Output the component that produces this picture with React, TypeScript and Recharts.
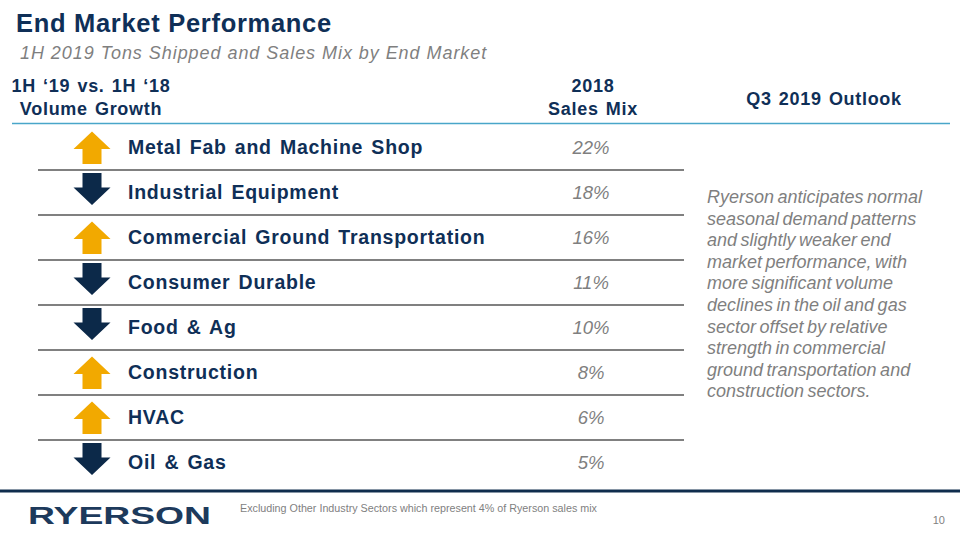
import { Bar, ComposedChart, XAxis, YAxis } from "recharts";

const categories = [
  "Metal Fab and Machine Shop",
  "Industrial Equipment",
  "Commercial Ground Transportation",
  "Consumer Durable",
  "Food & Ag",
  "Construction",
  "HVAC",
  "Oil & Gas",
];
const salesMix = [22, 18, 16, 11, 10, 8, 6, 5];
const volumeGrowth = ["up", "down", "up", "down", "down", "up", "up", "down"];

const outlookLines = [
  "Ryerson anticipates normal",
  "seasonal demand patterns",
  "and slightly weaker end",
  "market performance, with",
  "more significant volume",
  "declines in the oil and gas",
  "sector offset by relative",
  "strength in commercial",
  "ground transportation and",
  "construction sectors.",
];

const rows = categories.map((name, i) => ({
  name,
  mix: salesMix[i],
  dir: volumeGrowth[i],
}));

const navy = "#0f2f57";
const gold = "#f2a900";
const arrowNavy = "#0c2949";
const gray = "#7f7f7f";
const font = "'Liberation Sans', Arial, sans-serif";

function Arrow({ cx, cy, up }: { cx: number; cy: number; up: boolean }) {
  const pts = up
    ? [
        [cx, cy - 16],
        [cx + 18.5, cy + 1.5],
        [cx + 9.5, cy + 1.5],
        [cx + 9.5, cy + 16.5],
        [cx - 9.5, cy + 16.5],
        [cx - 9.5, cy + 1.5],
        [cx - 18.5, cy + 1.5],
      ]
    : [
        [cx - 9.5, cy - 19.5],
        [cx + 9.5, cy - 19.5],
        [cx + 9.5, cy - 5],
        [cx + 18.5, cy - 5],
        [cx, cy + 12.5],
        [cx - 18.5, cy - 5],
        [cx - 9.5, cy - 5],
      ];
  return <polygon points={pts.map((p) => p.join(",")).join(" ")} fill={up ? gold : arrowNavy} />;
}

function RowTick(props: any) {
  const { y, payload, index } = props;
  const row = rows[index] ?? rows.find((r) => r.name === payload.value);
  return (
    <g>
      <Arrow cx={92} cy={y} up={row.dir === "up"} />
      <text
        x={128}
        y={y + 6.5}
        fill={navy}
        fontFamily={font}
        fontWeight={700}
        fontSize={19.5}
        letterSpacing={0.75}
        wordSpacing={2}
      >
        {payload.value}
      </text>
    </g>
  );
}

function MixCell(props: any) {
  const { y, height, index, payload } = props;
  return (
    <g>
      <text
        x={591}
        y={y + height / 2 + 6}
        textAnchor="middle"
        fill={gray}
        fontFamily={font}
        fontStyle="italic"
        fontSize={18.5}
      >
        {payload.mix}%
      </text>
      {index < rows.length - 1 && (
        <line x1={38} x2={684} y1={y + height} y2={y + height} stroke="#808080" strokeWidth={2} />
      )}
    </g>
  );
}

const headStyle = {
  fill: navy,
  fontFamily: font,
  fontWeight: 700,
  fontSize: 18,
  letterSpacing: 0.7,
  wordSpacing: 1.5,
} as const;

export default function App() {
  return (
    <div style={{ position: "absolute", left: 0, top: 0, width: 960, height: 540, background: "#fff" }}>
      <ComposedChart
        width={960}
        height={540}
        layout="vertical"
        data={rows}
        margin={{ top: 125, bottom: 55, left: 0, right: 0 }}
        barCategoryGap={0}
      >
        <XAxis type="number" hide domain={[0, 30]} />
        <YAxis
          type="category"
          dataKey="name"
          width={38}
          interval={0}
          axisLine={false}
          tickLine={false}
          tick={<RowTick />}
        />
        <Bar dataKey="mix" isAnimationActive={false} shape={<MixCell />} />

        <text x={16} y={32} fill={navy} fontFamily={font} fontWeight={700} fontSize={25.5} letterSpacing={0.7}>
          End Market Performance
        </text>
        <text x={20} y={59} fill={gray} fontFamily={font} fontStyle="italic" fontSize={18} letterSpacing={0.95}>
          1H 2019 Tons Shipped and Sales Mix by End Market
        </text>

        <text x={91} y={92} textAnchor="middle" style={headStyle}>
          1H ‘19 vs. 1H ‘18
        </text>
        <text x={91} y={115} textAnchor="middle" style={headStyle}>
          Volume Growth
        </text>
        <text x={593} y={92} textAnchor="middle" style={headStyle}>
          2018
        </text>
        <text x={593} y={115} textAnchor="middle" style={headStyle}>
          Sales Mix
        </text>
        <text x={824} y={105} textAnchor="middle" style={headStyle}>
          Q3 2019 Outlook
        </text>
        <line x1={12} x2={950} y1={123.5} y2={123.5} stroke="#49a6c9" strokeWidth={1.5} />

        {outlookLines.map((t, i) => (
          <text
            key={t}
            x={707}
            y={203 + i * 21.6}
            fill={gray}
            fontFamily={font}
            fontStyle="italic"
            fontSize={18}
            wordSpacing={-1.5}
          >
            {t}
          </text>
        ))}

        <line x1={0} x2={960} y1={491} y2={491} stroke="#0f2d4d" strokeWidth={3} />
        <text
          x={28}
          y={524}
          fill="#1d3a5c"
          fontFamily={font}
          fontWeight={700}
          fontSize={24}
          textLength={183}
          lengthAdjust="spacingAndGlyphs"
        >
          RYERSON
        </text>
        <text
          x={240}
          y={512}
          fill={gray}
          fontFamily={font}
          fontSize={10}
          textLength={357}
          lengthAdjust="spacingAndGlyphs"
        >
          Excluding Other Industry Sectors which represent 4% of Ryerson sales mix
        </text>
        <text x={945} y={524} textAnchor="end" fill={gray} fontFamily={font} fontSize={11}>
          10
        </text>
      </ComposedChart>
    </div>
  );
}
